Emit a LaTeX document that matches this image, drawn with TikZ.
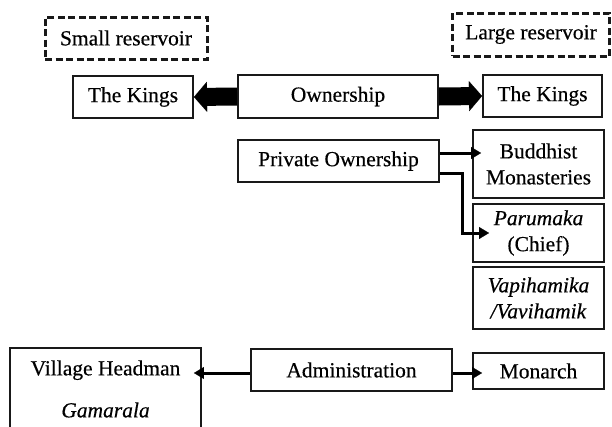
\documentclass[tikz,border=0pt]{standalone}
\usepackage{fontspec}
\setmainfont{Liberation Serif}
\newfontfamily\dfont{Liberation Serif}[FakeBold=0.4]
\usetikzlibrary{arrows.meta,calc}
\begin{document}
\begin{tikzpicture}[x=1pt,y=-1pt,
 box/.style={draw=black!90, line width=1.9pt, fill=white, rectangle, inner sep=0pt, align=center, font=\dfont\fontsize{21.5}{26}\selectfont, text=black},
 resbox/.style={box, dash pattern=on 7pt off 3.5pt, line width=3pt},
 fat/.style={line width=18pt, black, -{Triangle[length=13pt,width=30pt,line width=0.1pt]}},
 conn/.style={line width=3pt, black, line join=miter, -{Triangle[length=10pt,width=12pt,line width=0.1pt]}}]
\useasboundingbox[fill=white] (0,0) rectangle (612,426);
\node[resbox, minimum width=162pt, minimum height=42pt] (sres) at (126,38) {Small reservoir};
\node[resbox, minimum width=157pt, minimum height=43pt] (lres) at (531,34.5) {Large reservoir};
\node[box, minimum width=120pt, minimum height=42pt] (kingL) at (133,97) {The Kings};
\node[box, minimum width=200pt, minimum height=43pt] (own) at (338,96.5) {Ownership};
\node[box, minimum width=119pt, minimum height=42pt] (kingR) at (542.5,96) {The Kings};
\node[box, minimum width=201pt, minimum height=42pt] (priv) at (338.5,161) {Private Ownership};
\node[box, minimum width=131pt, minimum height=68pt] (budd) at (538.5,164) {Buddhist\\Monasteries};
\node[box, minimum width=131pt, minimum height=58pt] (paru) at (538.5,233) {\textit{Parumaka}\\(Chief)};
\node[box, minimum width=131pt, minimum height=62pt] (vapi) at (538.5,298) {\textit{Vapihamika}\\\textit{/Vavihamik}};
\node[box, minimum width=191pt, minimum height=82pt] (vill) at (105.5,389) {Village Headman\\[16pt]\textit{Gamarala}};
\node[box, minimum width=201pt, minimum height=42pt] (adm) at (351.5,370) {Administration};
\node[box, minimum width=131pt, minimum height=36pt] (mon) at (538.5,371) {Monarch};
\draw[fat] (own.west) -- (kingL.east);
\draw[fat] (own.east) -- (kingR.west);
\draw[conn] ($(priv.east)+(0,-8)$) -- ($(budd.west)+(9,-11)$);
\draw[conn] ($(priv.east)+(0,12)$) -| ($(paru.west)+(-10,0)$) -- ($(paru.west)+(17,0)$);
\draw[conn] ($(adm.west)+(0,3)$) -- ($(vill.east)+(-8,-16)$);
\draw[conn] ($(adm.east)+(0,3)$) -- ($(mon.west)+(10,2)$);
\end{tikzpicture}
\end{document}
